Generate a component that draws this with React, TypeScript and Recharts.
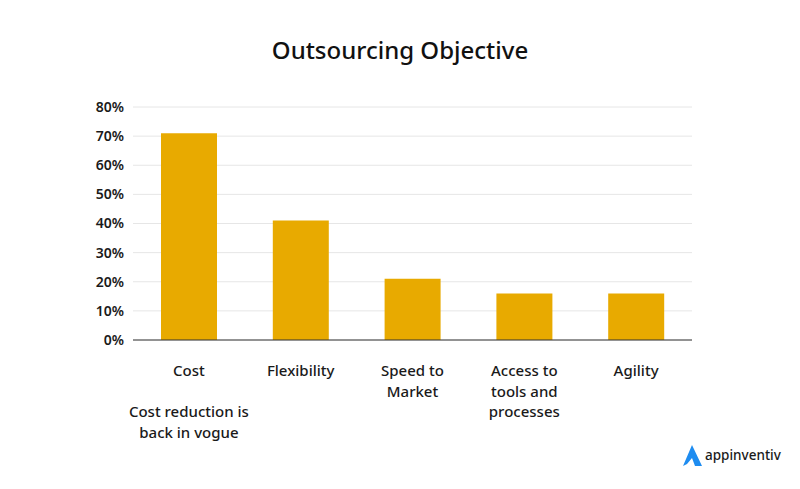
import { BarChart, Bar, XAxis, YAxis, CartesianGrid } from "recharts";

const categories = ["Cost", "Flexibility", "Speed to Market", "Access to tools and processes", "Agility"];
const shares = [71, 41, 21, 16, 16];
const yTicks = [0, 10, 20, 30, 40, 50, 60, 70, 80];

// tick label lines per category (blank line leaves a gap before the note)
const tickLines: Record<string, string[]> = {
  "Cost": ["Cost", "", "Cost reduction is", "back in vogue"],
  "Flexibility": ["Flexibility"],
  "Speed to Market": ["Speed to", "Market"],
  "Access to tools and processes": ["Access to", "tools and", "processes"],
  "Agility": ["Agility"],
};

const data = categories.map((c, i) => ({ name: c, value: shares[i] }));

const FONT = "'Noto Sans', 'Open Sans', sans-serif";

function CatTick(props: any) {
  const { x, y, payload } = props;
  const lines = tickLines[payload.value] || [payload.value];
  return (
    <g>
      {lines.map((l, i) => (
        <text key={i} x={x} y={y + 28 + i * 20.7} textAnchor="middle"
          fontSize={15} fontWeight={500} fill="#1a1a1a" fontFamily={FONT}>
          {l}
        </text>
      ))}
    </g>
  );
}

export default function App() {
  return (
    <div style={{ position: "absolute", left: 0, top: 0, width: 800, height: 489, background: "#fff", fontFamily: FONT }}>
      <div style={{ position: "absolute", top: 33, left: 0, width: 800, textAlign: "center", fontSize: 24, fontWeight: 500, color: "#111" }}>
        Outsourcing Objective
      </div>
      <BarChart width={800} height={489} data={data} margin={{ top: 107, right: 108, bottom: 0, left: 0 }}>
        <CartesianGrid vertical={false} stroke="#e6e6e6" />
        <XAxis dataKey="name" interval={0} height={149} tickLine={false} axisLine={{ stroke: "#333" }} tick={<CatTick />} />
        <YAxis width={133} domain={[0, 80]} ticks={yTicks} tickLine={false} axisLine={false}
          tickSize={0} tickMargin={9} tickFormatter={(v: number) => `${v}%`}
          tick={{ fontSize: 14, fontWeight: 600, fill: "#1a1a1a", fontFamily: FONT }} />
        <Bar dataKey="value" fill="#e8aa00" barSize={56} isAnimationActive={false} />
      </BarChart>
      <div style={{ position: "absolute", left: 681, top: 444, display: "flex", alignItems: "center" }}>
        <svg width={22} height={24} viewBox="0 0 22 24">
          <path d="M11 1 L21 22 L14 22 L11 14 L6 20 L2 22 Z" fill="#1e8cf0" />
        </svg>
        <span style={{ fontSize: 13.5, fontWeight: 500, color: "#1a1a1a", marginLeft: 2, marginTop: -3 }}>appinventiv</span>
      </div>
    </div>
  );
}
